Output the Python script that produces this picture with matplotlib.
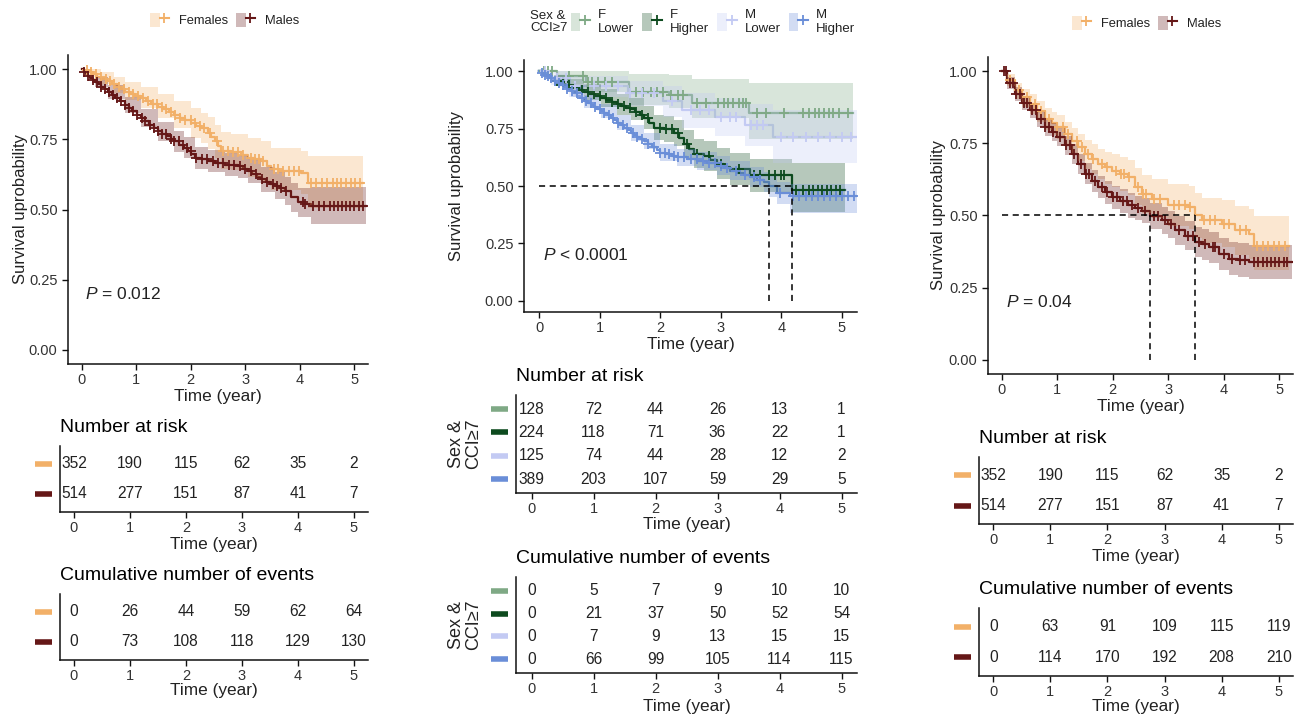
import numpy as np
import matplotlib
matplotlib.use('Agg')
import matplotlib.pyplot as plt
from matplotlib.patches import Patch
from matplotlib.lines import Line2D
from matplotlib.legend_handler import HandlerTuple
from matplotlib.transforms import ScaledTranslation, blended_transform_factory

plt.rcParams['font.family'] = ['Liberation Sans', 'DejaVu Sans']
plt.rcParams['mathtext.fontset'] = 'custom'
plt.rcParams['mathtext.it'] = 'Liberation Sans:italic'
plt.rcParams['mathtext.rm'] = 'Liberation Sans'

# ---------------- common ----------------
time_ticks = [0, 1, 2, 3, 4, 5]
surv_ticks = [0.0, 0.25, 0.5, 0.75, 1.0]
surv_tick_labels = ['0.00', '0.25', '0.50', '0.75', '1.00']

# ---------------- panel 1 (Females / Males) ----------------
p1_f_t = [0, 0.05, 0.12, 0.2, 0.28, 0.36, 0.45, 0.55, 0.65, 0.72, 0.79, 0.88, 0.97, 1.09, 1.18, 1.28, 1.4, 1.5,
          1.6, 1.7, 1.8, 1.9, 2.01, 2.1, 2.19, 2.31, 2.38, 2.44, 2.5, 2.56, 2.74, 2.92, 3.05, 3.18, 3.29, 3.4,
          3.47, 3.62, 4.02, 4.15, 5.15]
p1_f_s = [1.0, 0.995, 0.988, 0.981, 0.973, 0.966, 0.958, 0.947, 0.936, 0.928, 0.919, 0.912, 0.905, 0.896, 0.887,
          0.876, 0.866, 0.857, 0.846, 0.836, 0.827, 0.817, 0.807, 0.799, 0.79, 0.772, 0.757, 0.743, 0.725, 0.708,
          0.705, 0.695, 0.684, 0.678, 0.672, 0.655, 0.643, 0.637, 0.631, 0.593, 0.593]
p1_f_band_t = [0, 0.15, 0.36, 0.6, 0.79, 1.09, 1.4, 1.7, 2.01, 2.19, 2.31, 2.44, 2.56, 2.74, 3.05, 3.29, 3.47, 4.02, 4.15, 5.15]
p1_f_hi = [1.0, 1.0, 0.99, 0.97, 0.955, 0.935, 0.91, 0.885, 0.86, 0.845, 0.83, 0.80, 0.775, 0.77, 0.755, 0.745, 0.72, 0.71, 0.69, 0.69]
p1_f_lo = [1.0, 0.97, 0.945, 0.915, 0.89, 0.86, 0.825, 0.79, 0.755, 0.735, 0.715, 0.685, 0.645, 0.64, 0.615, 0.60, 0.57, 0.555, 0.505, 0.505]
p1_f_cens = [0.1, 0.18, 0.27, 0.35, 0.44, 0.52, 0.6, 0.68, 0.77, 0.86, 0.95, 1.03, 1.12, 1.21, 1.3, 1.38, 1.47,
             1.55, 1.63, 1.72, 1.8, 1.9, 2.0, 2.08, 2.17, 2.25, 2.36, 2.48, 2.6, 2.68, 2.78, 2.86, 2.95, 3.1,
             3.18, 3.25, 3.33, 3.52, 3.6, 3.7, 3.8, 3.9, 3.98, 4.2, 4.3, 4.4, 4.5, 4.6, 4.68, 4.76, 4.85, 4.93, 5.02, 5.1]

p1_m_t = [0, 0.04, 0.08, 0.12, 0.16, 0.2, 0.24, 0.3, 0.36, 0.42, 0.48, 0.55, 0.62, 0.7, 0.79, 0.86, 0.93, 1.01,
          1.09, 1.16, 1.24, 1.32, 1.4, 1.48, 1.56, 1.63, 1.7, 1.79, 1.88, 1.95, 2.01, 2.07, 2.2, 2.31, 2.45, 2.62,
          2.86, 2.95, 3.05, 3.13, 3.21, 3.29, 3.38, 3.46, 3.54, 3.63, 3.72, 3.84, 3.96, 4.08, 4.21, 5.22]
p1_m_s = [1.0, 0.99, 0.983, 0.975, 0.968, 0.961, 0.954, 0.946, 0.937, 0.928, 0.919, 0.908, 0.898, 0.886, 0.872,
          0.862, 0.851, 0.838, 0.825, 0.814, 0.802, 0.79, 0.778, 0.769, 0.76, 0.752, 0.743, 0.731, 0.72, 0.708,
          0.696, 0.684, 0.678, 0.672, 0.666, 0.66, 0.654, 0.645, 0.637, 0.627, 0.617, 0.607, 0.599, 0.592, 0.584,
          0.575, 0.566, 0.543, 0.526, 0.52, 0.514, 0.514]
p1_m_band_t = [0, 0.24, 0.48, 0.79, 1.09, 1.4, 1.7, 1.88, 2.07, 2.31, 2.62, 2.86, 3.05, 3.29, 3.54, 3.72, 3.84, 3.96, 4.21, 5.22]
p1_m_hi = [1.0, 0.972, 0.943, 0.90, 0.857, 0.813, 0.78, 0.758, 0.724, 0.712, 0.70, 0.695, 0.68, 0.652, 0.632, 0.616, 0.594, 0.578, 0.58, 0.58]
p1_m_lo = [1.0, 0.935, 0.895, 0.843, 0.793, 0.743, 0.706, 0.682, 0.644, 0.632, 0.62, 0.613, 0.594, 0.562, 0.536, 0.516, 0.492, 0.474, 0.447, 0.447]
p1_m_cens = [0.05, 0.12, 0.2, 0.28, 0.36, 0.43, 0.5, 0.58, 0.65, 0.72, 0.8, 0.87, 0.94, 1.02, 1.1, 1.17, 1.25, 1.32,
             1.4, 1.48, 1.55, 1.63, 1.7, 1.78, 1.85, 1.93, 2.0, 2.1, 2.2, 2.3, 2.4, 2.5, 2.6, 2.7, 2.8, 2.9, 3.0,
             3.1, 3.2, 3.3, 3.4, 3.5, 3.58, 3.66, 3.75, 4.05, 4.1, 4.25, 4.35, 4.45, 4.55, 4.62, 4.7, 4.78, 4.85,
             4.92, 5.0, 5.08, 5.16]

p1_groups = ['Females', 'Males']
p1_risk_females = [352, 190, 115, 62, 35, 2]
p1_risk_males = [514, 277, 151, 87, 41, 7]
p1_events_females = [0, 26, 44, 59, 62, 64]
p1_events_males = [0, 73, 108, 118, 129, 130]
p1_pvalue = 'P = 0.012'

# ---------------- panel 2 (Sex & CCI>=7) ----------------
p2_fl_t = [0, 0.3, 0.77, 1.49, 2.14, 2.53, 3.46, 5.19]
p2_fl_s = [1.0, 0.98, 0.954, 0.91, 0.899, 0.863, 0.82, 0.82]
p2_fl_band_t = p2_fl_t
p2_fl_hi = [1.0, 1.0, 1.0, 0.99, 0.985, 0.965, 0.95, 0.95]
p2_fl_lo = [1.0, 0.945, 0.91, 0.855, 0.84, 0.795, 0.705, 0.705]
p2_fl_cens = [0.08, 0.15, 0.22, 0.5, 0.72, 0.8, 0.88, 0.97, 1.08, 1.2, 1.6, 1.72, 1.85, 1.95, 2.05, 2.18, 2.3,
              2.38, 2.6, 2.75, 2.95, 3.05, 3.12, 3.2, 3.3, 3.36, 3.42, 3.6, 3.75, 4.05, 4.35, 4.45, 4.55, 4.62,
              4.7, 4.78, 4.85, 4.95, 5.1]

p2_fh_t = [0, 0.1, 0.18, 0.25, 0.34, 0.43, 0.52, 0.6, 0.67, 0.74, 0.83, 0.92, 1.02, 1.11, 1.2, 1.29, 1.36, 1.44,
           1.51, 1.58, 1.66, 1.73, 1.81, 1.9, 2.06, 2.23, 2.31, 2.39, 2.47, 2.55, 2.72, 2.83, 2.94, 3.05, 3.16,
           3.49, 4.17, 5.05]
p2_fh_s = [1.0, 0.985, 0.972, 0.96, 0.952, 0.943, 0.935, 0.927, 0.918, 0.91, 0.902, 0.893, 0.885, 0.875, 0.866,
           0.856, 0.849, 0.841, 0.834, 0.822, 0.81, 0.798, 0.777, 0.755, 0.748, 0.732, 0.708, 0.683, 0.661, 0.64,
           0.63, 0.613, 0.596, 0.585, 0.574, 0.546, 0.483, 0.483]
p2_fh_band_t = [0, 0.25, 0.52, 0.74, 1.02, 1.29, 1.51, 1.73, 1.9, 2.06, 2.23, 2.39, 2.55, 2.72, 2.94, 3.16, 3.49, 4.17, 5.05]
p2_fh_hi = [1.0, 0.985, 0.965, 0.945, 0.925, 0.9, 0.882, 0.85, 0.81, 0.805, 0.79, 0.745, 0.705, 0.695, 0.665, 0.645, 0.62, 0.60, 0.60]
p2_fh_lo = [1.0, 0.935, 0.905, 0.875, 0.845, 0.812, 0.788, 0.748, 0.70, 0.692, 0.675, 0.622, 0.577, 0.566, 0.53, 0.505, 0.475, 0.385, 0.385]
p2_fh_cens = [0.3, 0.4, 0.5, 0.6, 0.7, 0.8, 0.9, 1.0, 1.1, 1.2, 1.3, 1.4, 1.5, 1.6, 1.7, 1.8, 2.0, 2.1, 2.2, 2.3,
              2.45, 2.6, 2.8, 3.0, 3.3, 3.55, 3.65, 3.8, 3.9, 4.0, 4.05, 4.25, 4.35, 4.45, 4.52, 4.6, 4.68, 4.75,
              4.82, 4.9, 4.97]

p2_ml_t = [0, 0.2, 0.5, 1.46, 2.05, 2.36, 2.9, 3.4, 3.87, 5.25]
p2_ml_s = [1.0, 0.97, 0.935, 0.905, 0.87, 0.83, 0.80, 0.765, 0.715, 0.715]
p2_ml_band_t = p2_ml_t
p2_ml_hi = [1.0, 1.0, 0.98, 0.96, 0.935, 0.905, 0.885, 0.86, 0.83, 0.83]
p2_ml_lo = [1.0, 0.94, 0.89, 0.85, 0.80, 0.755, 0.72, 0.675, 0.60, 0.60]
p2_ml_cens = [0.1, 0.3, 0.45, 0.6, 0.9, 1.1, 1.3, 1.5, 1.7, 1.9, 2.2, 2.5, 2.65, 2.8, 3.0, 3.15, 3.25, 3.5, 3.6,
              3.7, 4.0, 4.2, 4.4, 4.6, 4.8, 5.0, 5.15]

p2_mh_t = [0, 0.04, 0.08, 0.12, 0.17, 0.21, 0.25, 0.3, 0.35, 0.41, 0.46, 0.52, 0.57, 0.63, 0.68, 0.74, 0.8, 0.86,
           0.91, 0.96, 1.02, 1.07, 1.13, 1.18, 1.24, 1.29, 1.35, 1.4, 1.46, 1.51, 1.57, 1.62, 1.68, 1.73, 1.8,
           1.87, 1.94, 2.0, 2.1, 2.2, 2.28, 2.45, 2.61, 2.78, 2.94, 3.05, 3.16, 3.27, 3.38, 3.49, 3.6, 3.71, 3.8,
           3.93, 4.15, 5.25]
p2_mh_s = [1.0, 0.993, 0.986, 0.979, 0.971, 0.964, 0.957, 0.949, 0.94, 0.93, 0.922, 0.913, 0.904, 0.893, 0.882,
           0.87, 0.861, 0.852, 0.844, 0.836, 0.827, 0.818, 0.808, 0.797, 0.787, 0.776, 0.765, 0.755, 0.744, 0.733,
           0.724, 0.715, 0.706, 0.697, 0.684, 0.671, 0.658, 0.646, 0.639, 0.632, 0.625, 0.618, 0.61, 0.60, 0.589,
           0.578, 0.567, 0.558, 0.548, 0.538, 0.528, 0.517, 0.50, 0.47, 0.455, 0.455]
p2_mh_band_t = [0, 0.25, 0.52, 0.74, 1.02, 1.29, 1.51, 1.73, 2.0, 2.28, 2.61, 2.94, 3.16, 3.49, 3.71, 3.8, 3.93, 4.15, 5.25]
p2_mh_hi = [1.0, 0.975, 0.937, 0.897, 0.857, 0.808, 0.767, 0.732, 0.683, 0.663, 0.649, 0.629, 0.608, 0.581, 0.562, 0.546, 0.518, 0.51, 0.51]
p2_mh_lo = [1.0, 0.938, 0.888, 0.842, 0.796, 0.743, 0.698, 0.661, 0.608, 0.586, 0.57, 0.548, 0.525, 0.494, 0.472, 0.453, 0.421, 0.38, 0.38]
p2_mh_cens = [0.05, 0.1, 0.15, 0.2, 0.27, 0.33, 0.4, 0.46, 0.55, 0.62, 0.7, 0.78, 0.85, 0.92, 1.0, 1.07, 1.15, 1.22,
              1.3, 1.38, 1.45, 1.55, 1.62, 1.7, 1.8, 1.9, 2.0, 2.08, 2.15, 2.22, 2.3, 2.4, 2.5, 2.6, 2.7, 2.8,
              2.9, 3.0, 3.1, 3.25, 3.4, 3.55, 3.65, 3.98, 4.2, 4.3, 4.4, 4.5, 4.6, 4.7, 4.8, 4.9, 5.0, 5.1, 5.2]

p2_groups = ['F\nLower', 'F\nHigher', 'M\nLower', 'M\nHigher']
p2_legend_title = 'Sex &\nCCI≥7'
p2_risk_fl = [128, 72, 44, 26, 13, 1]
p2_risk_fh = [224, 118, 71, 36, 22, 1]
p2_risk_ml = [125, 74, 44, 28, 12, 2]
p2_risk_mh = [389, 203, 107, 59, 29, 5]
p2_events_fl = [0, 5, 7, 9, 10, 10]
p2_events_fh = [0, 21, 37, 50, 52, 54]
p2_events_ml = [0, 7, 9, 13, 15, 15]
p2_events_mh = [0, 66, 99, 105, 114, 115]
p2_pvalue = 'P < 0.0001'

# ---------------- panel 3 (Females / Males) ----------------
p3_f_t = [0, 0.1, 0.235, 0.37, 0.5, 0.64, 0.777, 0.9, 1.0, 1.13, 1.26, 1.38, 1.5, 1.62, 1.74, 1.86, 1.98, 2.13,
          2.28, 2.4, 2.52, 2.70, 3.0, 3.37, 3.49, 3.61, 3.97, 4.21, 4.45, 4.55, 5.17]
p3_f_s = [1.0, 0.97, 0.934, 0.91, 0.888, 0.862, 0.836, 0.82, 0.807, 0.783, 0.760, 0.737, 0.714, 0.697, 0.679, 0.667,
          0.656, 0.645, 0.633, 0.60, 0.575, 0.558, 0.535, 0.529, 0.50, 0.483, 0.471, 0.448, 0.436, 0.395, 0.395]
p3_f_band_t = p3_f_t
p3_f_hi = [1.0, 0.99, 0.96, 0.94, 0.92, 0.897, 0.874, 0.86, 0.848, 0.826, 0.805, 0.784, 0.763, 0.748, 0.732, 0.722,
           0.713, 0.704, 0.694, 0.665, 0.642, 0.627, 0.608, 0.604, 0.577, 0.562, 0.553, 0.532, 0.522, 0.50, 0.50]
p3_f_lo = [1.0, 0.95, 0.905, 0.878, 0.853, 0.825, 0.797, 0.78, 0.765, 0.74, 0.713, 0.688, 0.663, 0.645, 0.625, 0.611,
           0.598, 0.585, 0.571, 0.535, 0.508, 0.49, 0.462, 0.454, 0.423, 0.404, 0.389, 0.364, 0.35, 0.31, 0.31]
p3_f_cens = [0.15, 0.3, 0.45, 0.6, 0.7, 0.85, 1.0, 1.1, 1.2, 1.35, 1.45, 1.55, 1.65, 1.8, 1.9, 2.05, 2.15, 2.2,
             2.3, 2.45, 2.55, 2.6, 2.75, 2.85, 3.1, 3.2, 3.3, 3.4, 3.65, 3.75, 3.85, 4.0, 4.1, 4.3, 4.4, 4.6, 4.7,
             4.8, 4.9, 5.0, 5.1]

p3_m_t = [0, 0.1, 0.235, 0.37, 0.5, 0.64, 0.777, 0.9, 1.0, 1.13, 1.26, 1.38, 1.5, 1.62, 1.74, 1.86, 1.98, 2.13,
          2.28, 2.4, 2.52, 2.68, 2.89, 3.0, 3.13, 3.3, 3.49, 3.6, 3.73, 3.91, 4.09, 4.25, 4.45, 5.23]
p3_m_s = [1.0, 0.96, 0.922, 0.89, 0.865, 0.835, 0.807, 0.79, 0.772, 0.743, 0.714, 0.68, 0.645, 0.62, 0.598, 0.58,
          0.564, 0.55, 0.535, 0.526, 0.517, 0.498, 0.483, 0.47, 0.448, 0.43, 0.407, 0.40, 0.39, 0.367, 0.35, 0.345,
          0.338, 0.338]
p3_m_band_t = p3_m_t
p3_m_hi = [1.0, 0.98, 0.945, 0.915, 0.892, 0.863, 0.837, 0.82, 0.803, 0.775, 0.748, 0.715, 0.681, 0.657, 0.636,
           0.619, 0.604, 0.591, 0.577, 0.569, 0.561, 0.543, 0.529, 0.517, 0.497, 0.48, 0.459, 0.453, 0.444, 0.423,
           0.408, 0.404, 0.398, 0.398]
p3_m_lo = [1.0, 0.94, 0.899, 0.865, 0.838, 0.807, 0.777, 0.76, 0.741, 0.711, 0.68, 0.645, 0.609, 0.583, 0.56, 0.541,
           0.524, 0.509, 0.493, 0.483, 0.473, 0.453, 0.437, 0.423, 0.399, 0.38, 0.355, 0.347, 0.336, 0.311, 0.292,
           0.286, 0.278, 0.278]
p3_m_cens = [0.03, 0.08, 0.14, 0.2, 0.26, 0.32, 0.4, 0.46, 0.55, 0.62, 0.7, 0.78, 0.85, 0.93, 1.05, 1.15, 1.22,
             1.3, 1.42, 1.52, 1.58, 1.68, 1.8, 1.9, 2.0, 2.08, 2.18, 2.25, 2.35, 2.45, 2.58, 2.75, 2.82, 2.95,
             3.05, 3.2, 3.35, 3.45, 3.55, 3.66, 3.8, 3.85, 4.0, 4.15, 4.3, 4.38, 4.55, 4.62, 4.7, 4.78, 4.85, 4.92,
             5.0, 5.08, 5.15]

p3_groups = ['Females', 'Males']
p3_risk_females = [352, 190, 115, 62, 35, 2]
p3_risk_males = [514, 277, 151, 87, 41, 7]
p3_events_females = [0, 63, 91, 109, 115, 119]
p3_events_males = [0, 114, 170, 192, 208, 210]
p3_pvalue = 'P = 0.04'

# ---------------- styling ----------------
c_fem = '#F2B068'
c_male = '#651717'
c_fl = '#7FA985'
c_fh = '#0D4A1E'
c_ml = '#C3CAF3'
c_mh = '#6A8ED8'
band_alpha = 0.3
TXT = '#222222'
TICK = '#333333'

W, H = 1298, 716
fig = plt.figure(figsize=(W / 100, H / 100), dpi=100)


def rect(l, r, t, b):
    return [l / W, 1 - b / H, (r - l) / W, (b - t) / H]


def px_offset_label(ax, px):
    off = ScaledTranslation(0, -px / 100, fig.dpi_scale_trans)
    ax.xaxis.set_label_coords(0.5, 0, transform=ax.transAxes + off)
    ax.xaxis.label.set_va('center')


def style_axes(ax):
    for sp in ['top', 'right']:
        ax.spines[sp].set_visible(False)
    for sp in ['left', 'bottom']:
        ax.spines[sp].set_linewidth(1.1)
        ax.spines[sp].set_color('#111111')
    ax.tick_params(axis='both', colors='#111111', labelcolor=TICK, labelsize=10.5, width=1.0, length=4)
    ax.tick_params(axis='x', pad=2.2)


def km_panel(ax, curves, pval):
    for c in curves:
        ax.step(c['t'], c['s'], where='post', color=c['col'], lw=1.6, zorder=2)
    for c in curves:
        ax.fill_between(c['bt'], c['lo'], c['hi'], step='post', color=c['col'], alpha=band_alpha, lw=0, zorder=3)
    for c in curves:
        t_arr = np.asarray(c['t'])
        s_arr = np.asarray(c['s'])
        idx = np.searchsorted(t_arr, c['cens'], side='right') - 1
        ax.plot(c['cens'], s_arr[idx], ls='none', marker='+', ms=6.5, mew=1.3, color=c['col'], zorder=4)
    meds = []
    for c in curves:
        s_arr = np.asarray(c['s'])
        below = np.where(s_arr <= 0.5)[0]
        if len(below):
            meds.append(c['t'][below[0]])
    if meds:
        ax.plot([0, max(meds)], [0.5, 0.5], ls=(0, (4, 3)), color='black', lw=1.1, zorder=5)
        for m in meds:
            ax.plot([m, m], [0, 0.5], ls=(0, (4, 3)), color='black', lw=1.1, zorder=5)
    ax.set_xlim(-0.25, 5.25)
    ax.set_ylim(-0.05, 1.05)
    ax.set_xticks(time_ticks)
    ax.set_yticks(surv_ticks)
    ax.set_yticklabels(surv_tick_labels)
    style_axes(ax)
    ax.set_xlabel('Time (year)', fontsize=12.4, color=TXT)
    ax.set_ylabel('Survival uprobability', fontsize=12, color=TXT)
    head, val = pval.split(' ', 1)
    ax.text(0.07, 0.2, r'$\it{P}$' + ' ' + val, fontsize=12.5, color=TXT, ha='left', va='center')


def curve(t, s, bt, lo, hi, cens, col):
    return dict(t=t, s=s, bt=bt, lo=lo, hi=hi, cens=cens, col=col)


def table_panel(ax, title, rows, colors, ylab=None, ylab_x=-0.15):
    n = len(rows)
    for i, vals in enumerate(rows):
        y = n - i
        for tt, v in zip(time_ticks, vals):
            ax.text(tt, y, str(v), ha='center', va='center', fontsize=11.2, color=TXT)
    ax.set_xlim(-0.25, 5.25)
    ax.set_ylim(0.4, n + 0.6)
    ax.set_xticks(time_ticks)
    ax.set_yticks([])
    style_axes(ax)
    ax.set_xlabel('Time (year)', fontsize=12.4, color=TXT)
    ax.text(0, 1, title, transform=ax.transAxes + ScaledTranslation(0, 0.1, fig.dpi_scale_trans),
            ha='left', va='bottom', fontsize=14, color='black')
    bb = ax.get_position()
    axw = bb.width * W
    tr = blended_transform_factory(ax.transAxes, ax.transData)
    for i, col in enumerate(colors):
        y = n - i
        ax.plot([-25 / axw, -8 / axw], [y, y], color=col, lw=4, transform=tr, clip_on=False,
                solid_capstyle='butt')
    if ylab:
        ax.text(ylab_x, 0.5, ylab, transform=ax.transAxes, rotation=90, ha='center', va='center',
                fontsize=13, color=TXT, linespacing=0.95)


def legend_handles(colors):
    return [(Patch(facecolor=c, alpha=band_alpha, edgecolor='none'),
             Line2D([], [], color=c, lw=1.5, marker='+', ms=6.5, mew=1.3)) for c in colors]


# ---------------- Panel 1 ----------------
ax1 = fig.add_axes(rect(68, 368, 55, 364))
km_panel(ax1, [
    curve(p1_f_t, p1_f_s, p1_f_band_t, p1_f_lo, p1_f_hi, p1_f_cens, c_fem),
    curve(p1_m_t, p1_m_s, p1_m_band_t, p1_m_lo, p1_m_hi, p1_m_cens, c_male),
], p1_pvalue)
px_offset_label(ax1, 32)
ax1.yaxis.set_label_coords((21 - 68) / 300, 0.5)
ax1.yaxis.label.set_va('center')

t1a = fig.add_axes(rect(60, 368, 446, 512))
table_panel(t1a, 'Number at risk', [p1_risk_females, p1_risk_males], [c_fem, c_male])
px_offset_label(t1a, 32)
t1b = fig.add_axes(rect(60, 368, 594, 660))
table_panel(t1b, 'Cumulative number of events', [p1_events_females, p1_events_males], [c_fem, c_male])
px_offset_label(t1b, 31)

fig.legend(handles=legend_handles([c_fem, c_male]), labels=p1_groups,
           handler_map={tuple: HandlerTuple(ndivide=None, pad=0)},
           loc='center', bbox_to_anchor=(225 / W, 1 - 20 / H), ncol=2, frameon=False,
           fontsize=9.3, handlelength=1.45, handleheight=1.4, columnspacing=0.6, handletextpad=0.8,
           borderpad=0, labelcolor=TXT)

# ---------------- Panel 2 ----------------
ax2 = fig.add_axes(rect(524, 857, 60, 312))
km_panel(ax2, [
    curve(p2_fl_t, p2_fl_s, p2_fl_band_t, p2_fl_lo, p2_fl_hi, p2_fl_cens, c_fl),
    curve(p2_fh_t, p2_fh_s, p2_fh_band_t, p2_fh_lo, p2_fh_hi, p2_fh_cens, c_fh),
    curve(p2_ml_t, p2_ml_s, p2_ml_band_t, p2_ml_lo, p2_ml_hi, p2_ml_cens, c_ml),
    curve(p2_mh_t, p2_mh_s, p2_mh_band_t, p2_mh_lo, p2_mh_hi, p2_mh_cens, c_mh),
], p2_pvalue)
px_offset_label(ax2, 33)
ax2.yaxis.set_label_coords((456 - 524) / 333, 0.5)
ax2.yaxis.label.set_va('center')

p2_colors = [c_fl, c_fh, c_ml, c_mh]
t2a = fig.add_axes(rect(516, 857, 395, 493))
table_panel(t2a, 'Number at risk', [p2_risk_fl, p2_risk_fh, p2_risk_ml, p2_risk_mh], p2_colors,
            ylab=p2_legend_title, ylab_x=(465 - 516) / 341)
px_offset_label(t2a, 32)
t2b = fig.add_axes(rect(516, 857, 577, 673))
table_panel(t2b, 'Cumulative number of events', [p2_events_fl, p2_events_fh, p2_events_ml, p2_events_mh],
            p2_colors, ylab=p2_legend_title, ylab_x=(465 - 516) / 341)
px_offset_label(t2b, 33)

fig.text(530 / W, 1 - 22 / H, p2_legend_title, ha='left', va='center', fontsize=9.5, color=TXT,
         linespacing=1.0)
fig.legend(handles=legend_handles(p2_colors), labels=p2_groups,
           handler_map={tuple: HandlerTuple(ndivide=None, pad=0)},
           loc='center', bbox_to_anchor=(713 / W, 1 - 22 / H), ncol=4, frameon=False,
           fontsize=9.5, handlelength=1.5, handleheight=1.7, columnspacing=0.6, handletextpad=0.6,
           borderpad=0, labelcolor=TXT)

# ---------------- Panel 3 ----------------
ax3 = fig.add_axes(rect(988, 1293, 57, 374))
km_panel(ax3, [
    curve(p3_f_t, p3_f_s, p3_f_band_t, p3_f_lo, p3_f_hi, p3_f_cens, c_fem),
    curve(p3_m_t, p3_m_s, p3_m_band_t, p3_m_lo, p3_m_hi, p3_m_cens, c_male),
], p3_pvalue)
px_offset_label(ax3, 32)
ax3.yaxis.set_label_coords((939 - 988) / 305, 0.5)
ax3.yaxis.label.set_va('center')

t3a = fig.add_axes(rect(979, 1293, 457, 524))
table_panel(t3a, 'Number at risk', [p3_risk_females, p3_risk_males], [c_fem, c_male])
px_offset_label(t3a, 32)
t3b = fig.add_axes(rect(979, 1293, 608, 676))
table_panel(t3b, 'Cumulative number of events', [p3_events_females, p3_events_males], [c_fem, c_male])
px_offset_label(t3b, 31)

fig.legend(handles=legend_handles([c_fem, c_male]), labels=p3_groups,
           handler_map={tuple: HandlerTuple(ndivide=None, pad=0)},
           loc='center', bbox_to_anchor=(1147 / W, 1 - 23 / H), ncol=2, frameon=False,
           fontsize=9.3, handlelength=1.45, handleheight=1.4, columnspacing=0.6, handletextpad=0.8,
           borderpad=0, labelcolor=TXT)

fig.savefig('out.png', dpi=100)
